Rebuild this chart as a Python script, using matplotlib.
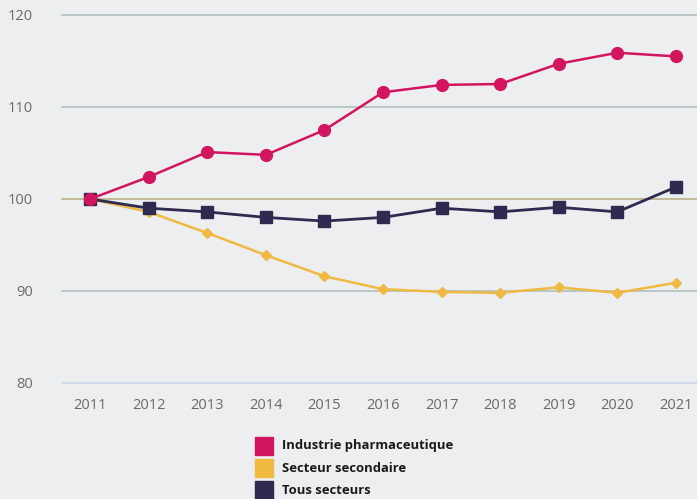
import matplotlib
matplotlib.use('Agg')
import matplotlib.pyplot as plt
from matplotlib.patches import Rectangle

# values (indice, base 100 en 2011)
years = [2011, 2012, 2013, 2014, 2015, 2016, 2017, 2018, 2019, 2020, 2021]
pharma = [100, 102.4, 105.1, 104.8, 107.5, 111.6, 112.4, 112.5, 114.7, 115.9, 115.5]
secondaire = [100, 98.6, 96.3, 93.9, 91.6, 90.2, 89.9, 89.8, 90.4, 89.8, 90.9]
tous = [100, 99.0, 98.6, 98.0, 97.6, 98.0, 99.0, 98.6, 99.1, 98.6, 101.3]
y_ticks = [80, 90, 100, 110, 120]
labels = ['Industrie pharmaceutique', 'Secteur secondaire', 'Tous secteurs']

c_pharma = '#d3145f'
c_sec = '#f0b942'
c_tous = '#2e2a50'
bg = '#edeef0'

plt.rcParams['font.family'] = ['Open Sans', 'DejaVu Sans']

fig = plt.figure(figsize=(6.97, 4.99), dpi=100, facecolor=bg)
ax = fig.add_axes([62 / 697, 116 / 499, 635 / 697, 368 / 499])
ax.set_facecolor(bg)

# grid lines
for v in y_ticks:
    if v == 100:
        col = '#b5ab7e'
    elif v == 80:
        col = '#c6d6ec'
    else:
        col = '#a9bbb9'
    ax.axhline(v, color=col, lw=1.1, zorder=1, clip_on=False)

ax.plot(years, secondaire, color=c_sec, lw=1.8, marker='D', ms=5.5, zorder=3)
ax.plot(years, tous, color=c_tous, lw=2.0, marker='s', ms=8.5, zorder=4)
ax.plot(years, pharma, color=c_pharma, lw=1.8, marker='o', ms=8.5, zorder=5)

ax.set_xlim(2010.52, 2021.36)
ax.set_ylim(80, 120)
ax.set_xticks(years)
ax.set_yticks(y_ticks)
ax.tick_params(length=0, labelsize=10.5, labelcolor='#696969')
ax.tick_params(axis='x', pad=11)
ax.tick_params(axis='y', pad=21)
for s in ax.spines.values():
    s.set_visible(False)

# legend drawn by hand to sit under the axis
colors = [c_pharma, c_sec, c_tous]
row_y = [446, 468, 490]
for lab, col, yy in zip(labels, colors, row_y):
    fig.patches.append(Rectangle((255 / 697, 1 - (yy + 9) / 499), 18 / 697, 18 / 499,
                                 transform=fig.transFigure, color=col, figure=fig))
    fig.text(282 / 697, 1 - yy / 499, lab, fontsize=9.4, fontweight='bold',
             color='#1a1a1a', va='center', ha='left')

plt.savefig('out.png', dpi=100, facecolor=bg)
